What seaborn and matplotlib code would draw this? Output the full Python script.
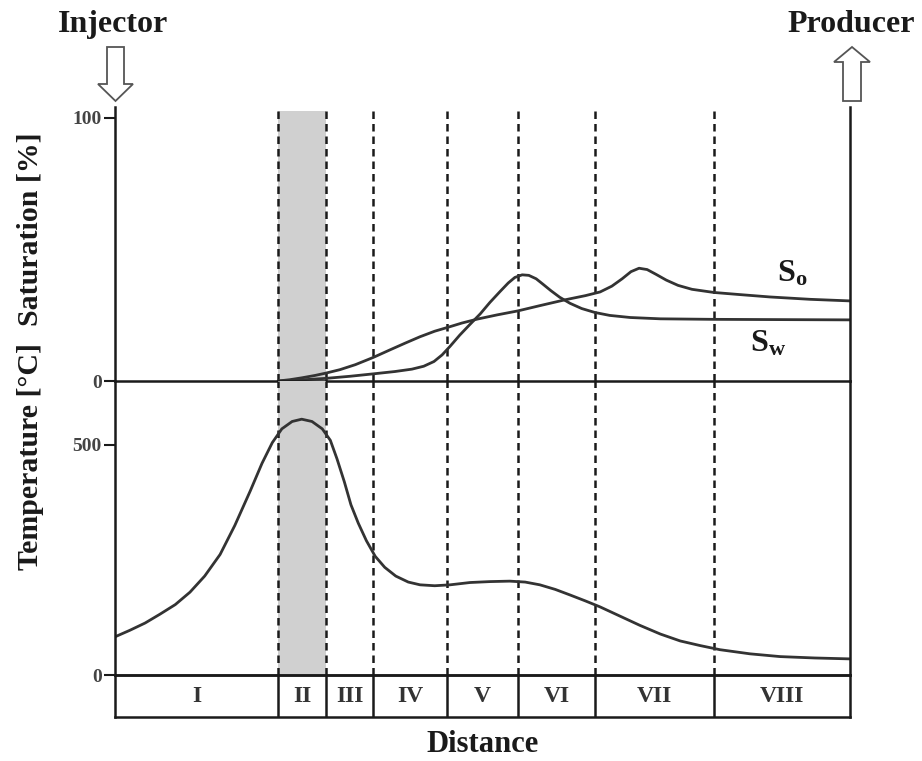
import matplotlib
matplotlib.use("Agg")
import matplotlib.pyplot as plt
import seaborn as sns
from matplotlib.patches import Polygon

sns.set_style("white")
plt.rcParams['font.family'] = ['Liberation Serif', 'DejaVu Serif']
plt.rcParams['font.weight'] = 'bold'
plt.rcParams['mathtext.fontset'] = 'custom'
plt.rcParams['mathtext.bf'] = 'Liberation Serif:bold'
plt.rcParams['mathtext.rm'] = 'Liberation Serif:bold'

# zones along the distance axis (0 = injector, 100 = producer)
zone_edges = [0, 22.2, 28.7, 35.1, 45.2, 54.8, 65.3, 81.5, 100]
zone_names = ["I", "II", "III", "IV", "V", "VI", "VII", "VIII"]
shaded_zone = 1  # zone II

# temperature profile [°C]
temp_x = [0.0, 2.0, 4.1, 6.1, 8.2, 10.2, 12.2, 14.3, 16.3, 18.4, 20.0, 21.4,
          22.7, 24.1, 25.4, 26.8, 28.2, 29.3, 30.2, 31.2, 32.1, 33.1, 34.2,
          35.4, 36.7, 38.2, 39.9, 41.5, 43.5, 45.6, 48.3, 51.0, 53.7, 55.8,
          57.8, 59.9, 61.9, 64.0, 66.0, 68.7, 71.4, 74.2, 76.9, 79.6, 82.3,
          86.4, 90.5, 95.2, 100.0]
temp_y = [83, 97, 113, 132, 153, 180, 215, 262, 325, 400, 460, 505,
          535, 551, 556, 551, 535, 510, 470, 420, 370, 330, 292,
          258, 234, 215, 202, 196, 194, 196, 201, 203, 204, 202,
          196, 186, 174, 161, 148, 128, 108, 89, 74, 64, 55,
          46, 40, 37, 35]

# oil saturation [%]
so_x = [22.2, 23.8, 25.4, 27.2, 28.7, 30.6, 32.7, 35.1, 37.4, 39.5, 41.5, 43.5,
        45.2, 47.2, 49.3, 52.0, 54.8, 57.8, 61.2, 64.0, 66.0, 67.6, 69.0, 70.2,
        71.3, 72.4, 73.6, 75.0, 76.6, 78.5, 81.5, 85.0, 89.1, 94.6, 100.0]
so_y = [0, 0.5, 1.2, 2.1, 3.0, 4.3, 6.2, 8.9, 11.8, 14.4, 16.8, 18.9,
        20.3, 22.0, 23.5, 25.1, 26.6, 28.6, 30.8, 32.4, 33.8, 36.0, 38.8, 41.5,
        42.8, 42.3, 40.5, 38.3, 36.3, 34.8, 33.6, 32.8, 31.9, 31.0, 30.4]

# water saturation [%]
sw_x = [22.2, 25.2, 28.7, 32.0, 35.1, 38.1, 40.4, 42.0, 43.4, 44.5, 45.6, 46.9,
        48.3, 49.7, 51.0, 52.4, 53.5, 54.4, 55.4, 56.3, 57.3, 58.2, 59.3, 60.5,
        61.9, 63.5, 65.3, 67.3, 70.1, 74.2, 81.5, 100.0]
sw_y = [0, 0.4, 1.0, 1.8, 2.7, 3.6, 4.5, 5.6, 7.4, 9.9, 13.2, 17.4,
        21.5, 25.5, 29.8, 34.0, 37.2, 39.3, 40.3, 40.1, 38.8, 36.8, 34.3, 31.8,
        29.5, 27.5, 26.0, 24.9, 24.1, 23.6, 23.4, 23.2]

line_col = '#333333'
ink = '#1a1a1a'

fig = plt.figure(figsize=(9.22, 7.61), dpi=100)
L, W = 115 / 922, 735 / 922
ax_s = fig.add_axes([L, 1 - 381 / 761, W, 274 / 761])
ax_t = fig.add_axes([L, 1 - 675 / 761, W, 294 / 761])
ax_z = fig.add_axes([L, 1 - 717 / 761, W, 42 / 761])

ax_s.set_ylim(0, 104)
ax_t.set_ylim(0, 639)
for ax in (ax_s, ax_t, ax_z):
    ax.set_xlim(0, 100)
    ax.set_xticks([])
    ax.patch.set_alpha(0)
    for sp in ax.spines.values():
        sp.set_color(ink)
        sp.set_linewidth(1.8)
        sp.set_zorder(5)
    ax.tick_params(axis='y', direction='out', length=8, width=1.5, pad=1.5,
                   labelsize=14, labelcolor='#444444', color=ink, left=True)
ax_s.spines['top'].set_visible(False)
ax_t.spines['top'].set_visible(False)
ax_s.set_yticks([0, 100])
ax_t.set_yticks([0, 500])
ax_z.set_yticks([])
ax_z.set_ylim(0, 1)

# shaded zone and dashed zone boundaries
top_frac = 102.3 / 104
lo, hi = zone_edges[shaded_zone], zone_edges[shaded_zone + 1]
ax_s.axvspan(lo, hi, ymax=top_frac, color='#d0d0d0', lw=0, zorder=0)
ax_t.axvspan(lo, hi, color='#d0d0d0', lw=0, zorder=0)
for xe in zone_edges[1:-1]:
    ax_s.axvline(xe, ymax=top_frac, color=ink, lw=1.8, ls=(0, (3, 2)), zorder=1)
    ax_t.axvline(xe, color=ink, lw=1.8, ls=(0, (3, 2)), zorder=1)
    ax_z.axvline(xe, color=ink, lw=1.8)

for i, name in enumerate(zone_names):
    mid = (zone_edges[i] + zone_edges[i + 1]) / 2
    ax_z.text(mid, 0.5, name, ha='center', va='center', fontsize=17,
              color='#333333', fontweight='bold')

# curves
sns.lineplot(x=temp_x, y=temp_y, ax=ax_t, color=line_col, lw=2.0, zorder=3)
sns.lineplot(x=so_x, y=so_y, ax=ax_s, color=line_col, lw=2.0, zorder=3)
sns.lineplot(x=sw_x, y=sw_y, ax=ax_s, color=line_col, lw=2.0, zorder=3)
for ax in (ax_s, ax_t, ax_z):
    ax.set_xlabel('')
    ax.set_ylabel('')

# overlay in pixel coordinates for labels and arrows
ov = fig.add_axes([0, 0, 1, 1])
ov.set_xlim(0, 922)
ov.set_ylim(761, 0)
ov.axis('off')
ov.patch.set_alpha(0)

down = [(107, 47), (124, 47), (124, 84), (133, 84), (115.5, 101), (98, 84), (107, 84)]
up = [(852, 47), (870, 62), (861, 62), (861, 101), (843, 101), (843, 62), (834, 62)]
for pts in (down, up):
    ov.add_patch(Polygon(pts, closed=True, facecolor='white', edgecolor='#555555', lw=1.3))

ov.text(113, 32, "Injector", ha='center', va='baseline', fontsize=23, color=ink)
ov.text(851, 32, "Producer", ha='center', va='baseline', fontsize=23, color=ink)
ov.text(483, 752, "Distance", ha='center', va='baseline', fontsize=22, color=ink)
ov.text(30, 229, "Saturation [%]", rotation=90, ha='center', va='center',
        fontsize=21.5, color=ink)
ov.text(30, 456, "Temperature [°C]", rotation=90, ha='center', va='center',
        fontsize=21.5, color=ink)
ov.text(777, 282, r'$\mathbf{S_o}$', ha='left', va='baseline', fontsize=23, color=ink)
ov.text(750, 352, r'$\mathbf{S_w}$', ha='left', va='baseline', fontsize=23, color=ink)

fig.savefig("out.png", dpi=100)
